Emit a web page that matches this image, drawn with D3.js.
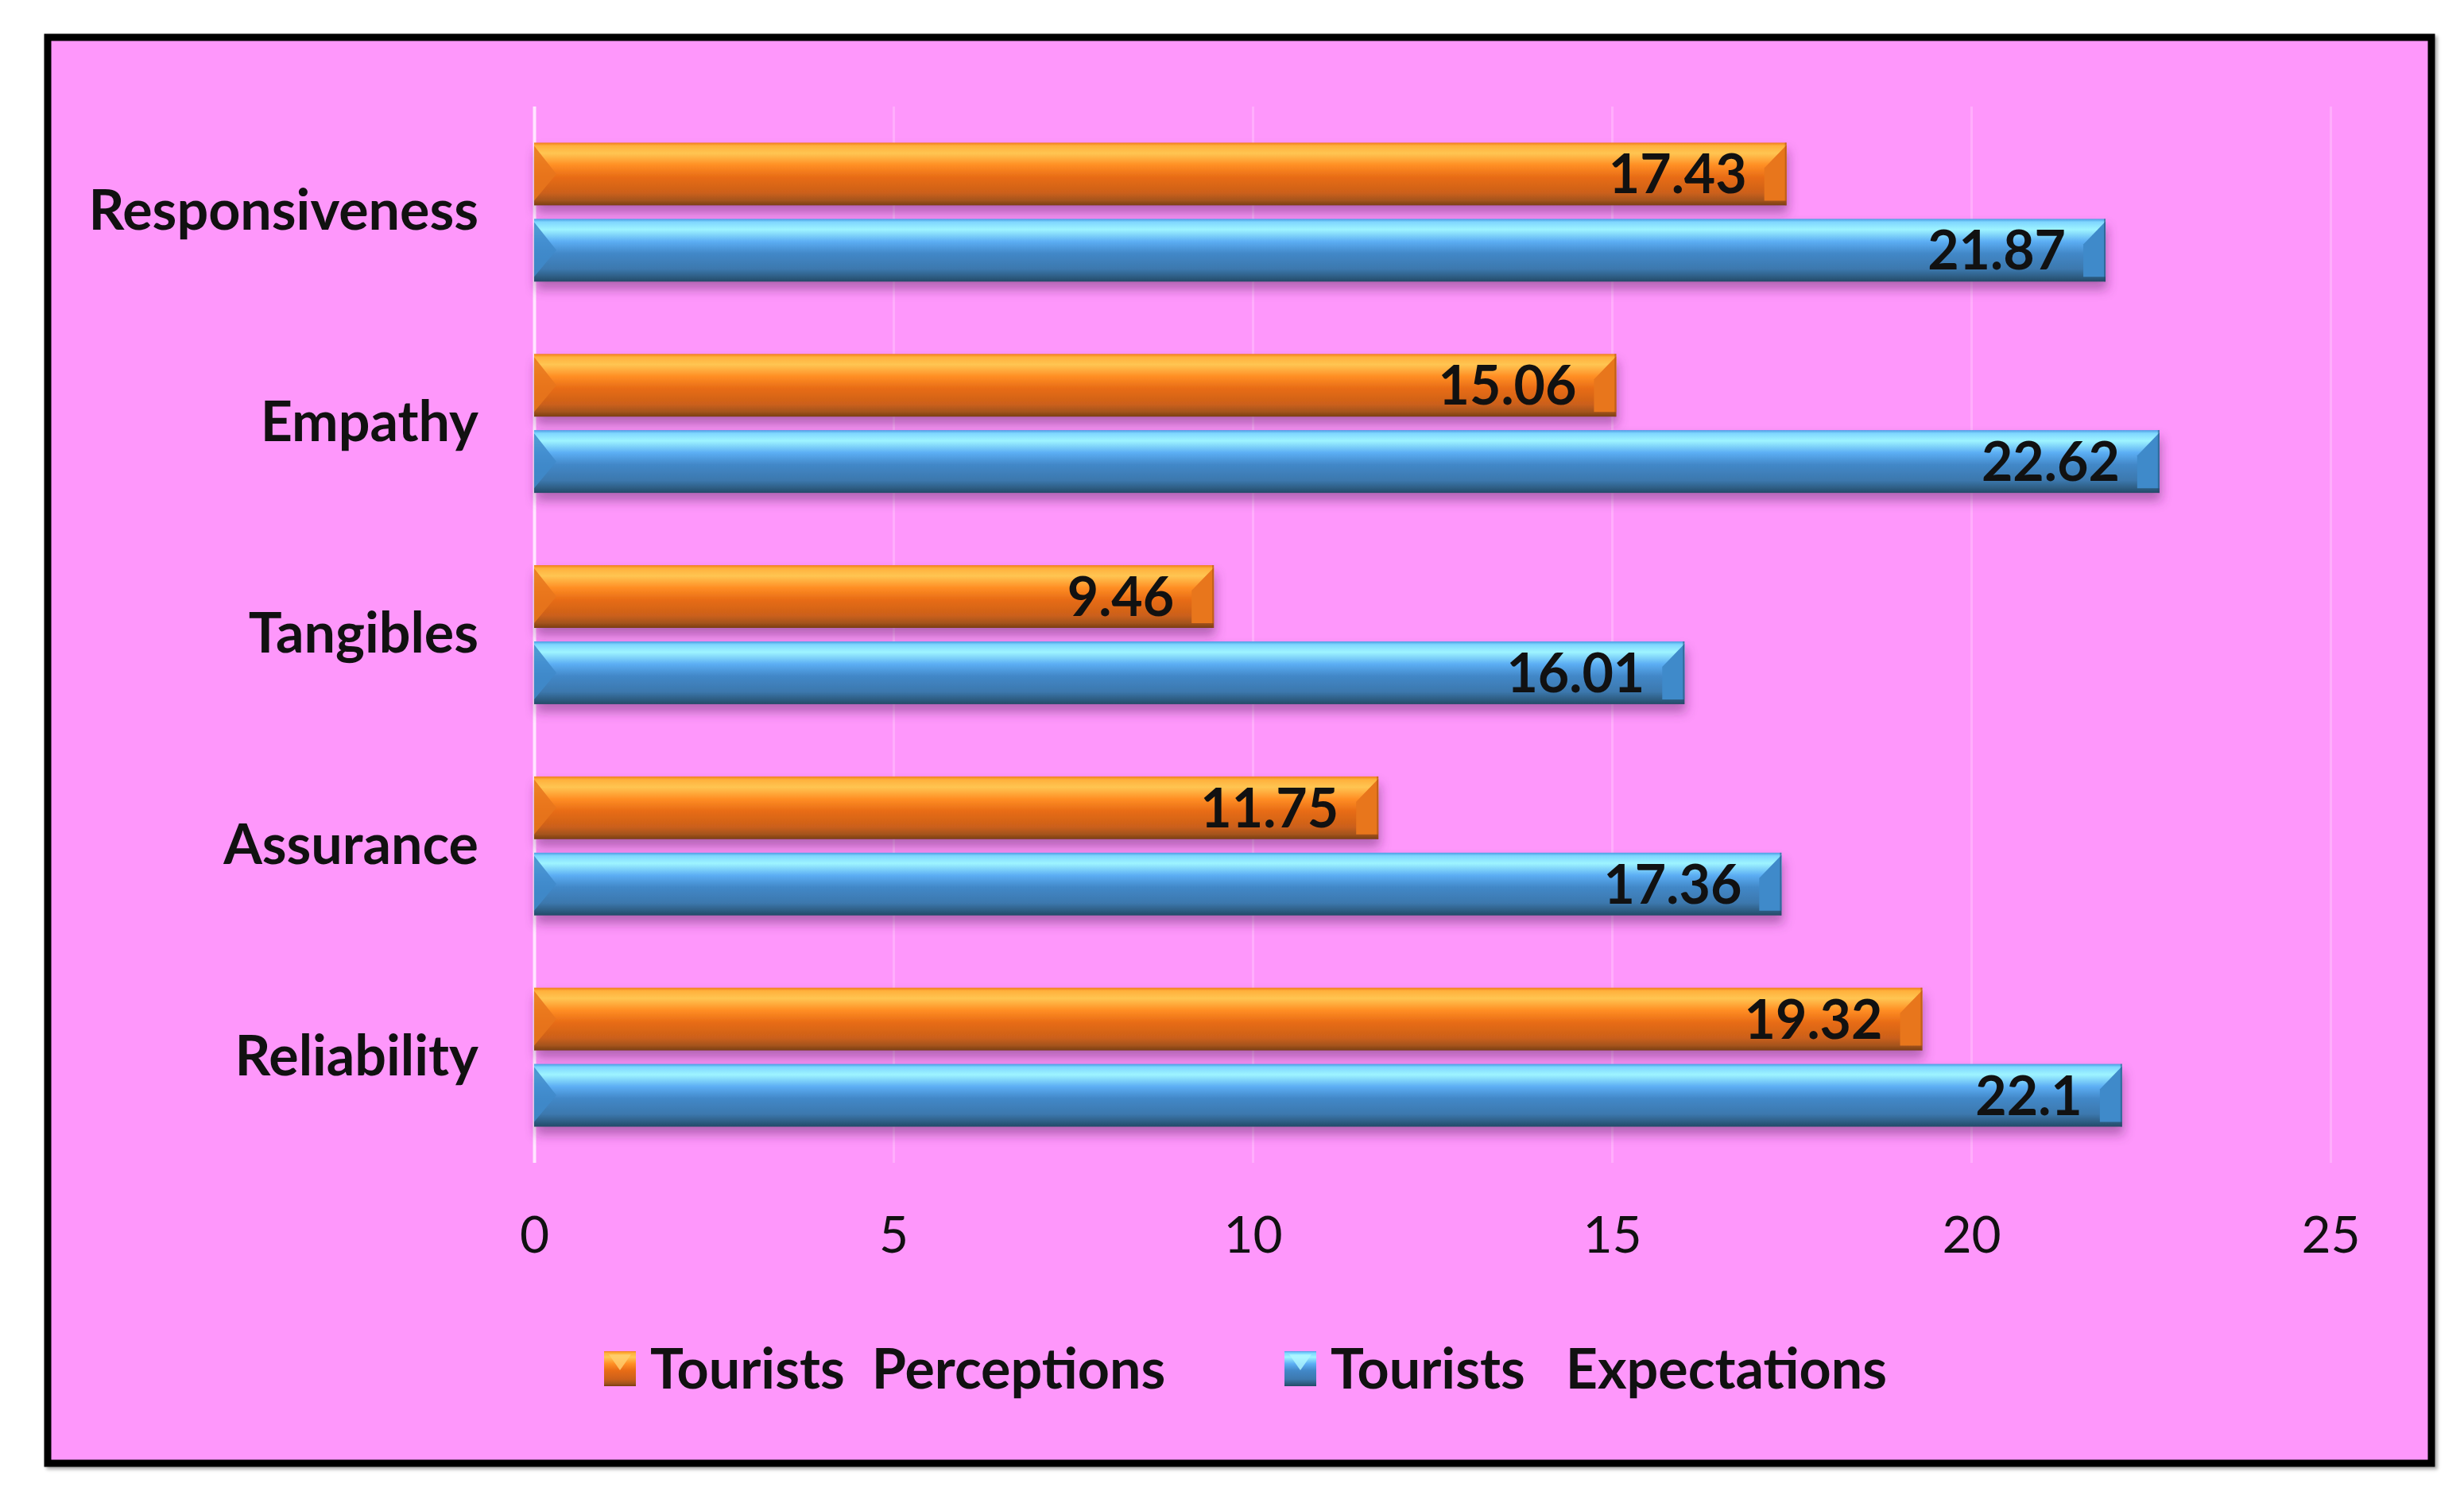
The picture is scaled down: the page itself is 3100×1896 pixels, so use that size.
<!DOCTYPE html>
<html>
<head>
<meta charset="utf-8">
<script src="https://cdn.jsdelivr.net/npm/d3@7"></script>
<style>
  body { margin: 0; background: #ffffff; }
  text { font-family: Lato, "Open Sans", sans-serif; fill: #111; }
</style>
</head>
<body>
<div id="chart"></div>
<script>
// chart values
const categories = ["Responsiveness", "Empathy", "Tangibles", "Assurance", "Reliability"];
const seriesNames = ["Tourists  Perceptions", "Tourists   Expectations"];
const perceptions = [17.43, 15.06, 9.46, 11.75, 19.32];
const expectations = [21.87, 22.62, 16.01, 17.36, 22.1];
const xTicks = [0, 5, 10, 15, 20, 25];

const W = 3100, H = 1896;
const plot = { left: 672, right: 2932, top: 134, bottom: 1463 };

const svg = d3.select("#chart")
  .append("svg")
  .attr("width", W)
  .attr("height", H);

const defs = svg.append("defs");

// bar gradients (vertical, glossy look)
const grads = [
  { id: "gOrange", stops: [[0, "#f07c1c"], [0.05, "#ffb03c"], [0.17, "#ffc552"], [0.36, "#ff8e24"], [0.55, "#e86c16"], [0.8, "#cc601a"], [0.92, "#a5541c"], [1, "#7a3e12"]] },
  { id: "gBlue", stops: [[0, "#4b9be2"], [0.05, "#7fd6ff"], [0.17, "#9ef4ff"], [0.36, "#5caef4"], [0.55, "#4288c8"], [0.8, "#3c78ae"], [0.92, "#2e5e84"], [1, "#244a68"]] }
];
grads.forEach(function(g) {
  const lg = defs.append("linearGradient")
    .attr("id", g.id)
    .attr("x1", 0).attr("y1", 0).attr("x2", 0).attr("y2", 1);
  g.stops.forEach(function(s) {
    lg.append("stop").attr("offset", s[0]).attr("stop-color", s[1]);
  });
});

const shadow = defs.append("filter")
  .attr("id", "shadow")
  .attr("x", "-5%").attr("y", "-30%").attr("width", "110%").attr("height", "180%");
shadow.append("feDropShadow")
  .attr("dx", 2).attr("dy", 10)
  .attr("stdDeviation", 7)
  .attr("flood-color", "#5a2060")
  .attr("flood-opacity", 0.45);

const borderShadow = defs.append("filter").attr("id", "bshadow");
borderShadow.append("feDropShadow")
  .attr("dx", 3).attr("dy", 3).attr("stdDeviation", 2)
  .attr("flood-color", "#000").attr("flood-opacity", 0.35);

// pink panel with black frame
svg.append("rect")
  .attr("x", 60).attr("y", 47)
  .attr("width", 2999).attr("height", 1794)
  .attr("fill", "#fe97fb")
  .attr("stroke", "#000")
  .attr("stroke-width", 9)
  .attr("filter", "url(#bshadow)");

// scales
const x = d3.scaleLinear().domain([0, 25]).range([plot.left, plot.right]);
const y0 = d3.scaleBand().domain(categories).range([plot.top, plot.bottom]);
const y1 = d3.scaleBand().domain(seriesNames).range([0, y0.bandwidth()])
  .paddingInner(0.177).paddingOuter(0.474);
const color = d3.scaleOrdinal().domain(seriesNames).range(["url(#gOrange)", "url(#gBlue)"]);
const capColor = d3.scaleOrdinal().domain(seriesNames).range(["#e8761c", "#3f8aca"]);

// vertical gridlines
svg.append("g")
  .attr("transform", "translate(0," + plot.bottom + ")")
  .call(d3.axisBottom(x).tickValues(xTicks).tickSize(-(plot.bottom - plot.top)).tickFormat(""))
  .call(function(g) { g.select(".domain").remove(); })
  .call(function(g) {
    g.selectAll(".tick line")
      .attr("stroke", function(d) { return d === 0 ? "#ffe6ff" : "#ffaefc"; })
      .attr("stroke-width", function(d) { return d === 0 ? 4 : 3; });
  });

// x tick labels
svg.append("g")
  .attr("transform", "translate(0," + plot.bottom + ")")
  .call(d3.axisBottom(x).tickValues(xTicks).tickSize(0).tickPadding(68))
  .call(function(g) { g.select(".domain").remove(); })
  .call(function(g) {
    g.selectAll("text")
      .style("font-size", "64px")
      .style("font-family", "Lato, sans-serif")
      .attr("fill", "#222");
  });

// category labels
svg.append("g")
  .attr("transform", "translate(" + plot.left + ",0)")
  .call(d3.axisLeft(y0).tickSize(0).tickPadding(70))
  .call(function(g) { g.select(".domain").remove(); })
  .call(function(g) {
    g.selectAll("text")
      .style("font-size", "70px")
      .style("font-weight", "bold")
      .style("font-family", "Lato, sans-serif")
      .attr("fill", "#111");
  });

// bar rows
const rows = [];
categories.forEach(function(c, i) {
  rows.push({ cat: c, series: seriesNames[0], value: perceptions[i] });
  rows.push({ cat: c, series: seriesNames[1], value: expectations[i] });
});

const bars = svg.append("g").selectAll("g.bar")
  .data(rows)
  .enter().append("g")
  .attr("class", "bar")
  .attr("transform", function(d) { return "translate(0," + (y0(d.cat) + y1(d.series)) + ")"; });

const bh = y1.bandwidth();
const bev = 28;

bars.append("rect")
  .attr("x", x(0))
  .attr("y", 0)
  .attr("width", function(d) { return x(d.value) - x(0); })
  .attr("height", bh)
  .attr("fill", function(d) { return color(d.series); })
  .attr("filter", "url(#shadow)");

// left bevel chevron
bars.append("path")
  .attr("d", function() {
    return "M" + x(0) + ",4 L" + (x(0) + bev) + "," + (bh / 2) + " L" + x(0) + "," + (bh - 6) + "Z";
  })
  .attr("fill", function(d) { return capColor(d.series); })
  .attr("opacity", 0.85);

// right end bevel face
bars.append("path")
  .attr("d", function(d) {
    const xe = x(d.value);
    return "M" + (xe - bev) + "," + (bev + 4) + " L" + xe + ",3 L" + xe + "," + (bh - 6) + " L" + (xe - bev) + "," + (bh - 6) + "Z";
  })
  .attr("fill", function(d) { return capColor(d.series); });

bars.append("rect")
  .attr("x", function(d) { return x(d.value) - 2; })
  .attr("y", 0)
  .attr("width", 2)
  .attr("height", bh)
  .attr("fill", function(d) { return d.series === seriesNames[0] ? "#9a4a14" : "#234a6a"; })
  .attr("opacity", 0.5);

// value labels
bars.append("text")
  .attr("x", function(d) { return x(d.value) - 50; })
  .attr("y", bh / 2)
  .attr("dy", "0.36em")
  .attr("text-anchor", "end")
  .style("font-size", "68px")
  .style("font-weight", "bold")
  .text(function(d) { return d.value; });

// legend
const legend = svg.append("g").attr("transform", "translate(0,1722)");
const legendX = [760, 1616];
seriesNames.forEach(function(s, i) {
  const lg = legend.append("g").attr("transform", "translate(" + legendX[i] + ",0)");
  lg.append("rect")
    .attr("x", 0).attr("y", -22)
    .attr("width", 40).attr("height", 44)
    .attr("fill", color(s));
  lg.append("path")
    .attr("d", "M6,-18 L34,-18 L20,2 Z")
    .attr("fill", i === 0 ? "#ffd070" : "#b0f8ff")
    .attr("opacity", 0.8);
  lg.append("text")
    .attr("x", 58)
    .attr("y", 0)
    .attr("dy", "0.36em")
    .attr("xml:space", "preserve")
    .style("white-space", "pre")
    .style("font-size", "70px")
    .style("font-weight", "bold")
    .text(s);
});
</script>
</body>
</html>
